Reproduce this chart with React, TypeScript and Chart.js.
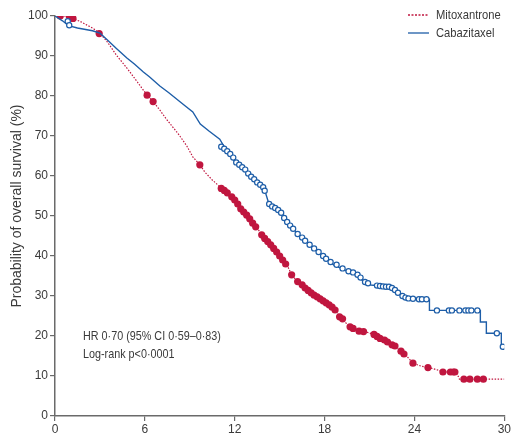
import React, { useEffect, useRef } from "react";
import { Chart, registerables } from "chart.js";

Chart.register(...registerables);

const SERIES_NAMES = ["Mitoxantrone", "Cabazitaxel"];
const X_TICKS = [0, 6, 12, 18, 24, 30];
const Y_TICKS = [0, 10, 20, 30, 40, 50, 60, 70, 80, 90, 100];
const Y_TITLE = "Probability of overall survival (%)";
const NOTE_LINES = ["HR 0·70 (95% CI 0·59–0·83)", "Log-rank p<0·0001"];

// Cabazitaxel survival curve (months, %)
const cabTime = [0, 0.5, 0.9, 1.5, 2.5, 3.0, 3.5, 4.1, 4.8, 5.3, 5.9, 6.3, 7.0, 7.6, 8.2, 8.7, 9.2, 9.7, 10.3, 11.0, 11.3, 12.0, 12.5, 13.1, 13.6, 14.0, 14.3, 14.7, 15.1, 15.5, 15.8, 16.2, 16.55, 17.3, 18.2, 18.6, 19.1, 19.6, 20.2, 20.6, 21.1, 22.2, 22.8, 23.3, 23.7, 25.0, 25.0, 28.4, 28.4, 28.8, 28.8, 29.8, 29.8];
const cabSurv = [100, 98.8, 97.6, 97.0, 96.3, 95.7, 94.0, 91.9, 89.5, 88.0, 86.0, 84.8, 82.5, 80.8, 79.0, 77.5, 76.0, 73.0, 71.2, 69.2, 67.3, 63.6, 62.0, 59.8, 58.0, 56.5, 52.8, 52.0, 51.0, 48.5, 47.3, 45.5, 44.4, 41.9, 39.0, 37.8, 36.9, 36.0, 35.25, 33.5, 32.75, 32.3, 31.1, 29.8, 29.3, 29.2, 26.4, 26.4, 23.5, 23.5, 20.7, 20.7, 17.3];

// Cabazitaxel censored marks
const cabCensTime = [0.85, 0.95, 11.1, 11.3, 11.5, 11.7, 11.9, 12.1, 12.3, 12.5, 12.7, 12.9, 13.1, 13.3, 13.5, 13.7, 13.9, 14.0, 14.3, 14.5, 14.7, 14.9, 15.1, 15.3, 15.5, 15.7, 15.9, 16.2, 16.5, 16.7, 17.0, 17.3, 17.6, 17.9, 18.1, 18.4, 18.8, 19.2, 19.6, 19.9, 20.2, 20.4, 20.7, 20.9, 21.5, 21.7, 21.9, 22.1, 22.3, 22.5, 22.7, 22.9, 23.2, 23.4, 23.6, 23.9, 24.3, 24.5, 24.8, 25.5, 26.3, 26.5, 27.0, 27.4, 27.6, 27.8, 28.2, 29.5, 29.9];
const cabCensSurv = [98.7, 97.7, 67.3, 66.8, 66.2, 65.5, 64.6, 63.4, 62.8, 62.2, 61.6, 60.6, 59.8, 59.2, 58.4, 57.8, 57.2, 56.3, 53.0, 52.4, 52.0, 51.5, 50.8, 49.5, 48.5, 47.6, 46.8, 45.5, 44.6, 43.8, 42.8, 41.9, 41.0, 40.0, 39.3, 38.5, 37.8, 36.9, 36.2, 35.9, 35.3, 34.6, 33.5, 33.2, 32.6, 32.5, 32.4, 32.3, 32.3, 32.0, 31.5, 30.8, 30.0, 29.6, 29.4, 29.3, 29.2, 29.2, 29.2, 26.4, 26.4, 26.4, 26.4, 26.4, 26.4, 26.4, 26.4, 20.7, 17.3];

// Mitoxantrone survival curve (months, %)
const mitTime = [0, 1.0, 1.2, 1.7, 2.5, 3.0, 3.5, 4.1, 4.8, 5.5, 6.15, 6.55, 7.0, 7.4, 8.3, 8.8, 9.2, 9.67, 10.0, 10.5, 11.1, 11.6, 12.1, 12.6, 13.2, 13.5, 13.9, 14.4, 14.8, 15.2, 15.55, 15.8, 16.2, 16.8, 17.3, 17.7, 18.2, 18.7, 19.1, 19.5, 19.9, 20.7, 21.2, 21.7, 22.3, 22.7, 23.1, 23.5, 23.9, 24.5, 25.0, 26.0, 26.8, 27.0, 30.0];
const mitSurv = [100, 100, 99.4, 98.6, 97.0, 95.7, 93.5, 90.2, 87.0, 83.5, 80.2, 78.6, 76.5, 74.4, 70.2, 67.5, 64.8, 62.8, 61.0, 59.0, 57.0, 55.3, 53.2, 51.0, 48.5, 47.0, 44.8, 43.0, 41.0, 39.0, 37.3, 35.3, 33.6, 31.5, 30.0, 29.4, 28.2, 26.5, 24.4, 23.0, 21.9, 21.1, 20.5, 19.4, 18.2, 17.5, 16.1, 14.9, 13.2, 12.4, 12.1, 11.0, 11.0, 9.2, 9.2];

// Mitoxantrone censored marks
const mitCensTime = [0.35, 0.95, 1.2, 2.95, 6.15, 6.55, 9.67, 11.1, 11.3, 11.5, 11.8, 12.0, 12.2, 12.4, 12.6, 12.8, 13.0, 13.2, 13.4, 13.8, 14.0, 14.2, 14.4, 14.6, 14.8, 15.0, 15.2, 15.4, 15.8, 16.2, 16.5, 16.7, 16.9, 17.1, 17.3, 17.5, 17.7, 17.9, 18.1, 18.3, 18.5, 18.7, 19.0, 19.2, 19.7, 19.9, 20.3, 20.6, 21.3, 21.5, 21.7, 22.0, 22.2, 22.5, 22.7, 23.1, 23.3, 23.9, 24.9, 25.9, 26.4, 26.6, 26.7, 27.3, 27.7, 28.2, 28.6];
const mitCensSurv = [100, 100, 99.4, 95.6, 80.2, 78.6, 62.8, 56.9, 56.4, 55.8, 54.8, 54.0, 53.0, 51.8, 51.0, 50.2, 49.3, 48.2, 47.3, 45.3, 44.4, 43.6, 42.8, 41.9, 41.0, 40.0, 39.0, 38.0, 35.3, 33.6, 32.8, 32.0, 31.4, 30.8, 30.2, 29.8, 29.3, 28.8, 28.3, 27.8, 27.2, 26.5, 24.8, 24.3, 22.3, 21.9, 21.2, 21.1, 20.4, 19.9, 19.4, 19.0, 18.5, 17.8, 17.5, 16.2, 15.5, 13.2, 12.1, 11.0, 11.0, 11.0, 11.0, 9.2, 9.2, 9.2, 9.2];

const RED = "#c0163f";
const BLUE = "#1e5ea8";
const TEXT = "#3a3a3a";
const AXIS = "#6a6a6a";
const FONT = '"Liberation Sans", Arial, sans-serif';

const pts = (xs: number[], ys: number[]) => xs.map((x, i) => ({ x, y: ys[i] }));

function narrowText(ctx: any, text: string, x: number, y: number, sx: number) {
  ctx.save();
  ctx.translate(x, y);
  ctx.scale(sx, 1);
  ctx.fillText(text, 0, 0);
  ctx.restore();
}

const textPlugin = {
  id: "kmText",
  afterDraw(chart: any) {
    const ctx = chart.ctx;
    ctx.save();
    ctx.font = `13px ${FONT}`;
    ctx.fillStyle = TEXT;
    ctx.textBaseline = "middle";
    const legendY = [15, 33];
    ctx.strokeStyle = RED;
    ctx.lineWidth = 1.3;
    ctx.setLineDash([2, 1.5]);
    ctx.beginPath();
    ctx.moveTo(408, legendY[0]);
    ctx.lineTo(429, legendY[0]);
    ctx.stroke();
    ctx.setLineDash([]);
    ctx.strokeStyle = BLUE;
    ctx.beginPath();
    ctx.moveTo(408, legendY[1]);
    ctx.lineTo(429, legendY[1]);
    ctx.stroke();
    ctx.textAlign = "left";
    narrowText(ctx, SERIES_NAMES[0], 436, legendY[0], 0.86);
    narrowText(ctx, SERIES_NAMES[1], 436, legendY[1], 0.86);
    narrowText(ctx, NOTE_LINES[0], 83, 336, 0.83);
    narrowText(ctx, NOTE_LINES[1], 83, 354, 0.83);
    // y title
    ctx.translate(17, 206);
    ctx.rotate(-Math.PI / 2);
    ctx.textAlign = "center";
    ctx.font = `14px ${FONT}`;
    ctx.fillText(Y_TITLE, 0, 0);
    ctx.restore();
  },
};

export default function App() {
  const ref = useRef<HTMLCanvasElement | null>(null);
  useEffect(() => {
    if (!ref.current) return;
    const chart = new Chart(ref.current, {
      type: "scatter",
      data: {
        datasets: [
          {
            label: SERIES_NAMES[1] + " censored",
            data: pts(cabCensTime, cabCensSurv),
            showLine: false,
            pointRadius: 2.6,
            pointBorderWidth: 1.2,
            pointBackgroundColor: "#ffffff",
            pointBorderColor: BLUE,
            order: 1,
          },
          {
            label: SERIES_NAMES[1],
            data: pts(cabTime, cabSurv),
            showLine: true,
            borderColor: BLUE,
            borderWidth: 1.4,
            pointRadius: 0,
            tension: 0,
            order: 2,
          },
          {
            label: SERIES_NAMES[0] + " censored",
            data: pts(mitCensTime, mitCensSurv),
            showLine: false,
            pointRadius: 3.6,
            pointBorderWidth: 0,
            pointBackgroundColor: RED,
            pointBorderColor: RED,
            order: 3,
          },
          {
            label: SERIES_NAMES[0],
            data: pts(mitTime, mitSurv),
            showLine: true,
            borderColor: RED,
            borderWidth: 1.2,
            borderDash: [1.5, 1.5],
            pointRadius: 0,
            tension: 0,
            order: 4,
          },
        ],
      },
      options: {
        responsive: false,
        animation: false,
        layout: { padding: { left: 0, top: 16, right: 7, bottom: 0 } },
        plugins: { legend: { display: false }, tooltip: { enabled: false } },
        scales: {
          x: {
            type: "linear",
            min: 0,
            max: 30,
            afterFit: (s: any) => { s.height = 20; },
            afterBuildTicks: (s: any) => { s.ticks = X_TICKS.map((v) => ({ value: v })); },
            border: { color: AXIS, width: 1.5 },
            grid: { drawOnChartArea: false, tickLength: 5, color: AXIS, lineWidth: 1.2 },
            ticks: { color: TEXT, font: { family: FONT, size: 12 }, padding: 1, maxRotation: 0 },
          },
          y: {
            min: 0,
            max: 100,
            afterFit: (s: any) => { s.width = 55; },
            afterBuildTicks: (s: any) => { s.ticks = Y_TICKS.map((v) => ({ value: v })); },
            border: { color: AXIS, width: 1.5 },
            grid: { drawOnChartArea: false, tickLength: 5, color: AXIS, lineWidth: 1.2 },
            ticks: { color: TEXT, font: { family: FONT, size: 12 }, padding: 2 },
          },
        },
      },
      plugins: [textPlugin],
    } as any);
    return () => chart.destroy();
  }, []);
  return (
    <div style={{ position: "fixed", left: 0, top: 0, width: 512, height: 436, background: "#fff" }}>
      <canvas ref={ref} width={512} height={436} style={{ width: 512, height: 436, display: "block" }} />
    </div>
  );
}
